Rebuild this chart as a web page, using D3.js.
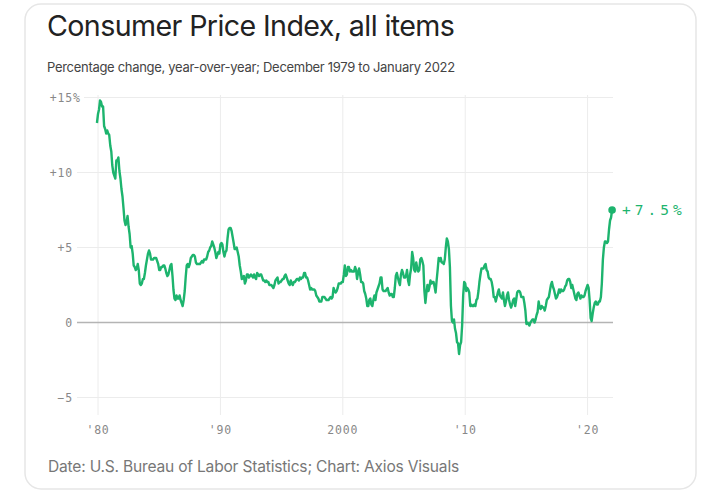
<!DOCTYPE html>
<html>
<head>
<meta charset="utf-8">
<script src="https://d3js.org/d3.v7.min.js"></script>
<style>
  body { margin: 0; background: #fff; }
  svg { display: block; }
</style>
</head>
<body>
<div id="chart"></div>
<script>

// CPI-U, all items, % change year over year, monthly
var cpi1979 = [13.3];
var cpi1980s = [
  13.9, 14.2, 14.8, 14.7, 14.4, 14.4, 13.1, 12.9, 12.6, 12.8, 12.6, 12.5,
  11.8, 11.4, 10.5, 10.0, 9.8, 9.6, 10.8, 10.8, 11.0, 10.1, 9.6, 8.9,
  8.4, 7.6, 6.8, 6.5, 6.7, 7.1, 6.4, 5.9, 5.0, 5.1, 4.6, 3.8,
  3.7, 3.5, 3.6, 3.9, 3.5, 2.6, 2.5, 2.6, 2.9, 2.9, 3.3, 3.8,
  4.2, 4.6, 4.8, 4.6, 4.2, 4.2, 4.2, 4.3, 4.3, 4.3, 4.1, 3.9,
  3.5, 3.5, 3.7, 3.7, 3.8, 3.8, 3.6, 3.3, 3.1, 3.2, 3.5, 3.8,
  3.9, 3.1, 2.2, 1.6, 1.5, 1.8, 1.6, 1.6, 1.8, 1.5, 1.3, 1.1,
  1.5, 2.1, 3.0, 3.8, 3.9, 3.7, 3.9, 4.3, 4.4, 4.5, 4.5, 4.4,
  4.0, 3.9, 3.9, 3.9, 3.9, 4.0, 4.1, 4.0, 4.2, 4.2, 4.2, 4.4,
  4.7, 4.8, 5.0, 5.1, 5.4, 5.2, 5.0, 4.7, 4.3, 4.5, 4.7, 4.6
];
var cpi1990s = [
  5.2, 5.3, 5.2, 4.7, 4.4, 4.7, 4.8, 5.6, 6.2, 6.3, 6.3, 6.1,
  5.7, 5.3, 4.9, 4.9, 5.0, 4.7, 4.4, 3.8, 3.4, 2.9, 3.0, 3.1,
  2.6, 2.8, 3.2, 3.2, 3.0, 3.1, 3.2, 3.1, 3.0, 3.2, 3.0, 2.9,
  3.3, 3.2, 3.1, 3.2, 3.2, 3.0, 2.8, 2.8, 2.7, 2.8, 2.7, 2.7,
  2.5, 2.5, 2.5, 2.4, 2.3, 2.5, 2.8, 2.9, 3.0, 2.6, 2.7, 2.7,
  2.8, 2.9, 2.9, 3.1, 3.2, 3.0, 2.8, 2.6, 2.5, 2.8, 2.6, 2.5,
  2.7, 2.7, 2.8, 2.9, 2.9, 2.8, 3.0, 2.9, 3.0, 3.0, 3.3, 3.3,
  3.0, 3.0, 2.8, 2.5, 2.2, 2.3, 2.2, 2.2, 2.2, 2.1, 1.8, 1.7,
  1.6, 1.4, 1.4, 1.4, 1.7, 1.7, 1.7, 1.6, 1.5, 1.5, 1.5, 1.6,
  1.7, 1.6, 1.7, 2.3, 2.1, 2.0, 2.1, 2.3, 2.6, 2.6, 2.6, 2.7
];
var cpi2000s = [
  2.7, 3.2, 3.8, 3.1, 3.2, 3.7, 3.7, 3.4, 3.5, 3.4, 3.4, 3.4,
  3.7, 3.5, 2.9, 3.3, 3.6, 3.2, 2.7, 2.7, 2.6, 2.1, 1.9, 1.6,
  1.1, 1.1, 1.5, 1.6, 1.2, 1.1, 1.5, 1.8, 1.5, 2.0, 2.2, 2.4,
  2.6, 3.0, 3.0, 2.2, 2.1, 2.1, 2.1, 2.2, 2.3, 2.0, 1.8, 1.9,
  1.9, 1.7, 1.7, 2.3, 3.1, 3.3, 3.0, 2.7, 2.5, 3.2, 3.5, 3.3,
  3.0, 3.0, 3.1, 3.5, 2.8, 2.5, 3.2, 3.6, 4.7, 4.3, 3.5, 3.4,
  4.0, 3.6, 3.4, 3.5, 4.2, 4.3, 4.1, 3.8, 2.1, 1.3, 2.0, 2.5,
  2.1, 2.4, 2.8, 2.6, 2.7, 2.7, 2.4, 2.0, 2.8, 3.5, 4.3, 4.1,
  4.3, 4.0, 4.0, 3.9, 4.2, 5.0, 5.6, 5.4, 4.9, 3.7, 1.1, 0.1,
  0.0, 0.2, -0.4, -0.7, -1.3, -1.4, -2.1, -1.5, -1.3, -0.2, 1.8, 2.7
];
var cpi2010s = [
  2.6, 2.1, 2.3, 2.2, 2.0, 1.1, 1.2, 1.1, 1.1, 1.2, 1.1, 1.5,
  1.6, 2.1, 2.7, 3.2, 3.6, 3.6, 3.6, 3.8, 3.9, 3.5, 3.4, 3.0,
  2.9, 2.9, 2.7, 2.3, 1.7, 1.7, 1.4, 1.7, 2.0, 2.2, 1.8, 1.7,
  1.6, 2.0, 1.5, 1.1, 1.4, 1.8, 2.0, 1.5, 1.2, 1.0, 1.2, 1.5,
  1.6, 1.1, 1.5, 2.0, 2.1, 2.1, 2.0, 1.7, 1.7, 1.7, 1.3, 0.8,
  -0.1, 0.0, -0.1, -0.2, 0.0, 0.1, 0.2, 0.2, 0.0, 0.2, 0.5, 0.7,
  1.4, 1.0, 0.9, 1.1, 1.0, 1.0, 0.8, 1.1, 1.5, 1.6, 1.7, 2.1,
  2.5, 2.7, 2.4, 2.2, 1.9, 1.6, 1.7, 1.9, 2.2, 2.0, 2.2, 2.1,
  2.1, 2.2, 2.4, 2.5, 2.8, 2.9, 2.9, 2.7, 2.3, 2.5, 2.2, 1.9,
  1.6, 1.5, 1.9, 2.0, 1.8, 1.6, 1.8, 1.7, 1.7, 1.8, 2.1, 2.3
];
var cpi2020s = [
  2.5, 2.3, 1.5, 0.3, 0.1, 0.6, 1.0, 1.3, 1.4, 1.2, 1.2, 1.4,
  1.4, 1.7, 2.6, 4.2, 5.0, 5.4, 5.4, 5.3, 5.4, 6.2, 6.8, 7.0,
  7.5
];

var yTicks = [15, 10, 5, 0, -5];
var yTickLabels = ["+15%", "+10", "+5", "0", "\u22125"];
var xTicks = [1980, 1990, 2000, 2010, 2020];
var xTickLabels = ["'80", "'90", "2000", "'10", "'20"];

var values = cpi1979.concat(cpi1980s, cpi1990s, cpi2000s, cpi2010s, cpi2020s);
var months = d3.timeMonth.range(new Date(1979, 11, 1), new Date(2022, 1, 1));
var data = months.map(function(m, i) { return { date: m, value: values[i] }; });

var width = 720, height = 497;
var green = "#1db46e";

var svg = d3.select("#chart")
  .append("svg")
    .attr("width", width)
    .attr("height", height);

// card
svg.append("rect")
  .attr("x", 25).attr("y", 4)
  .attr("width", 671).attr("height", 485)
  .attr("rx", 16)
  .attr("fill", "#fff")
  .attr("stroke", "#e6e6e6")
  .attr("stroke-width", 1.5);

// title + subtitle, fitted to the measured widths
function fitText(sel, targetWidth) {
  var fs = parseFloat(sel.attr("font-size"));
  var w = sel.node().getComputedTextLength();
  sel.attr("font-size", fs * targetWidth / w);
}

var title = svg.append("text")
  .attr("x", 47).attr("y", 36)
  .attr("font-family", "Inter, Roboto, sans-serif")
  .attr("font-size", 28)
  .attr("letter-spacing", -0.6)
  .attr("fill", "#222")
  .text("Consumer Price Index, all items");
fitText(title, 407);

var subtitle = svg.append("text")
  .attr("x", 47).attr("y", 72)
  .attr("font-family", "Inter, Roboto, sans-serif")
  .attr("font-size", 13)
  .attr("letter-spacing", -0.3)
  .attr("fill", "#444")
  .text("Percentage change, year-over-year; December 1979 to January 2022");
fitText(subtitle, 408);

// scales
var x = d3.scaleTime()
  .domain([new Date(1980, 0, 1), new Date(2020, 0, 1)])
  .range([98, 587.6]);

var y = d3.scaleLinear()
  .domain([-5, 15])
  .range([397.5, 97.5]);

var xEnd = 613;
var mono = "'DejaVu Sans Mono', 'Liberation Mono', monospace";

// vertical gridlines
svg.append("g")
  .selectAll("line")
  .data(xTicks)
  .join("line")
    .attr("x1", function(d) { return x(new Date(d, 0, 1)); })
    .attr("x2", function(d) { return x(new Date(d, 0, 1)); })
    .attr("y1", 95)
    .attr("y2", 415)
    .attr("stroke", "#ececec")
    .attr("stroke-width", 1);

// y labels and horizontal gridlines
var yAxis = svg.append("g");
yTicks.forEach(function(t, i) {
  var label = yAxis.append("text")
    .attr("x", 73)
    .attr("y", y(t))
    .attr("dy", "0.35em")
    .attr("text-anchor", "end")
    .attr("font-family", mono)
    .attr("font-size", 11.5)
    .attr("letter-spacing", 0.8)
    .attr("fill", "#888");
  if (t === 15) {
    label.text("+15");
    yAxis.append("text")
      .attr("x", 73).attr("y", y(t)).attr("dy", "0.35em")
      .attr("font-family", mono).attr("font-size", 11.5)
      .attr("fill", "#888").text("%");
  } else {
    label.text(yTickLabels[i]);
  }
  yAxis.append("line")
    .attr("x1", t === 15 ? 84 : 77)
    .attr("x2", xEnd)
    .attr("y1", y(t)).attr("y2", y(t))
    .attr("stroke", t === 0 ? "#b4b4b4" : "#ececec")
    .attr("stroke-width", t === 0 ? 1.6 : 1);
});

// x labels
svg.append("g")
  .selectAll("text")
  .data(xTicks)
  .join("text")
    .attr("x", function(d) { return x(new Date(d, 0, 1)); })
    .attr("y", 434)
    .attr("text-anchor", "middle")
    .attr("font-family", mono)
    .attr("font-size", 11.5)
    .attr("letter-spacing", 0.8)
    .attr("fill", "#888")
    .text(function(d, i) { return xTickLabels[i]; });

// the line
svg.append("path")
  .datum(data)
  .attr("fill", "none")
  .attr("stroke", green)
  .attr("stroke-width", 2.4)
  .attr("stroke-linejoin", "round")
  .attr("d", d3.line()
    .x(function(d) { return x(d.date); })
    .y(function(d) { return y(d.value); }));

// end point + label
var last = data[data.length - 1];
svg.append("circle")
  .attr("cx", x(last.date))
  .attr("cy", y(last.value))
  .attr("r", 3.8)
  .attr("fill", green);

svg.append("text")
  .attr("x", x(last.date) + 10)
  .attr("y", y(last.value))
  .attr("dy", "0.35em")
  .attr("font-family", mono)
  .attr("font-size", 14.5)
  .attr("letter-spacing", 4)
  .attr("fill", green)
  .text("+" + last.value.toFixed(1) + "%");

// footer
var footer = svg.append("text")
  .attr("x", 48).attr("y", 472)
  .attr("font-family", "Inter, Roboto, sans-serif")
  .attr("font-size", 14)
  .attr("letter-spacing", -0.2)
  .attr("fill", "#777")
  .text("Date: U.S. Bureau of Labor Statistics; Chart: Axios Visuals");
fitText(footer, 410);

</script>
</body>
</html>
